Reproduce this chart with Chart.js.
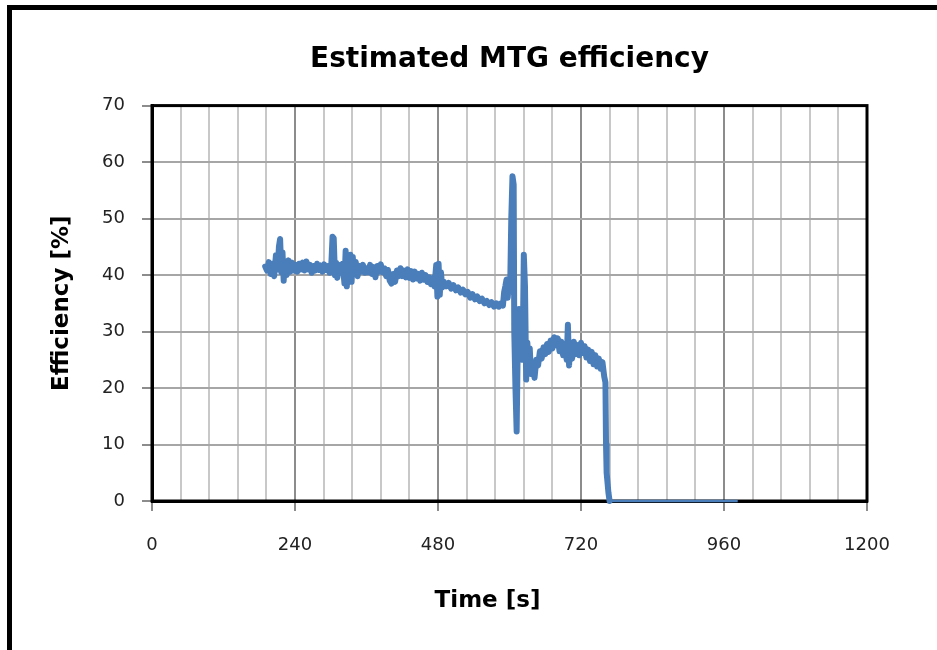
<!DOCTYPE html>
<html>
<head>
    <meta charset="UTF-8">
    <title>Estimated MTG efficiency</title>
    <script src="https://cdn.jsdelivr.net/npm/chart.js"></script>
    <style>
        body { margin: 0; background: #fff; }
        .wrap { position: relative; width: 937px; height: 650px; overflow: hidden; }
        /* outer frame of the picture (right side runs off the edge) */
        .frame {
            position: absolute;
            left: 7px; top: 5px;
            width: 960px; height: 641px;
            border-left: 5px solid #000;
            border-top: 5px solid #000;
            border-bottom: 2px solid #bbb;
            pointer-events: none;
        }
    </style>
</head>
<body>
<div class="wrap">
    <canvas id="chartMtg" width="937" height="650"></canvas>
    <div class="frame"></div>
</div>
<script>
    // time axis [s] and efficiency [%]
    const times = [
        190, 193, 196, 199, 202, 205, 208, 211, 213, 215, 217, 219, 221, 223, 226, 229, 232, 235, 238,
        241, 244, 247, 250, 253, 256, 259, 262, 265, 268, 271, 274, 277, 280, 283, 286, 289, 292, 295, 298,
        301, 303, 305, 307, 309, 311, 314, 317, 320, 323, 325, 327, 329, 331, 333, 335, 337, 339,
        342, 345, 348, 351, 354, 357, 360, 363, 366, 369, 372, 375, 378, 381, 384, 387, 390, 393, 396, 399,
        402, 405, 408, 411, 414, 417, 420, 423, 426, 429, 432, 435, 438, 441, 444, 447, 450, 453, 456, 459,
        462, 465, 468, 471, 474, 477, 479, 481, 483, 485, 487, 490, 494, 498,
        502, 506, 510, 514, 518, 522, 526, 530, 534, 538, 542, 546, 550, 554, 558, 562, 566, 570, 574, 578,
        582, 586, 589, 591, 593, 595, 597, 599, 601, 603, 605, 607, 608, 610, 612, 614, 616, 618, 620,
        622, 624, 626, 628, 630, 632, 634, 636, 639, 642, 645, 648, 651, 654, 657, 660, 663, 666, 669,
        672, 675, 678, 681, 684, 687, 690, 693, 696, 698, 700, 702, 705, 708, 711, 714, 717, 720,
        723, 726, 729, 732, 735, 738, 741, 744, 747, 750, 753, 756, 759, 761, 762, 763, 766, 768
    ];
    const efficiency = [
        41.5, 40.8, 42.3, 40.2, 42.0, 39.8, 43.5, 41.0, 45.0, 46.4, 40.5, 44.0, 39.0, 42.5, 40.0, 42.6, 40.6, 42.2, 40.8,
        41.8, 40.6, 42.0, 41.0, 42.2, 40.8, 42.4, 41.0, 41.8, 40.4, 41.6, 40.8, 42.0, 40.9, 41.7, 40.6, 41.9, 40.9, 41.6, 40.4,
        42.0, 46.8, 46.5, 40.0, 42.2, 39.5, 41.8, 40.6, 42.0, 38.5, 44.3, 38.0, 43.0, 39.0, 43.6, 38.8, 43.2, 40.2,
        42.3, 39.8, 41.6, 40.6, 41.8, 40.4, 41.2, 40.5, 41.8, 40.2, 41.4, 39.6, 41.6, 40.6, 41.9, 40.5, 41.2, 39.8, 40.9, 39.0,
        38.5, 40.2, 38.8, 40.8, 39.8, 41.2, 39.8, 40.8, 39.6, 41.0, 39.5, 40.7, 39.2, 40.6, 39.4, 40.2, 39.0, 40.4, 39.2, 40.0,
        38.8, 39.6, 38.4, 39.4, 38.0, 41.8, 36.2, 42.0, 36.5, 40.5, 37.8, 38.8, 38.0, 38.6,
        37.6, 38.2, 37.3, 37.8, 36.9, 37.4, 36.6, 37.0, 36.0, 36.6, 35.7, 36.2, 35.4, 35.8, 35.0, 35.4, 34.7, 35.2, 34.4, 35.0,
        34.4, 35.0, 34.6, 37.0, 38.0, 39.2, 36.0, 38.6, 37.0, 50.0, 57.5, 56.0, 30.0, 20.0, 12.3, 29.0, 34.0, 26.0, 30.0,
        25.0, 43.6, 38.0, 21.5, 28.0, 23.0, 27.0, 22.5, 24.5, 21.8, 25.0, 24.0, 26.5, 25.2, 27.2, 26.0, 27.8, 26.4, 28.4,
        27.0, 29.0, 27.6, 28.8, 26.5, 28.2, 25.8, 27.6, 25.0, 31.2, 24.0, 27.8, 25.2, 28.2, 26.0, 27.6, 25.8, 28.0,
        26.2, 27.4, 25.4, 26.8, 24.8, 26.4, 24.2, 25.8, 23.8, 25.2, 23.4, 24.6, 22.0, 21.0, 10.0, 5.0, 1.5, 0
    ];
    // flat zero after shutdown
    const tailTimes = [768, 983];
    const tailEfficiency = [0, 0];

    const xTicksMajor = 240;   // labelled ticks
    const xGridStep = 48;      // minor grid spacing
    const yTickStep = 10;

    const lineColor = '#4A7EBB';
    const fontFamily = '"DejaVu Sans", sans-serif';

    // black box round the plot area (under the data) + x axis title
    const plotFrame = {
        id: 'plotFrame',
        beforeDatasetsDraw(chart) {
            const a = chart.chartArea;
            const c = chart.ctx;
            c.save();
            c.strokeStyle = '#000';
            c.lineWidth = 3;
            c.strokeRect(a.left, a.top, a.right - a.left, a.bottom - a.top);
            c.restore();
        },
        afterDraw(chart) {
            const a = chart.chartArea;
            const c = chart.ctx;
            c.save();
            c.fillStyle = '#000';
            c.font = 'bold 23px ' + fontFamily;
            c.textAlign = 'center';
            c.textBaseline = 'middle';
            c.fillText('Time [s]', (a.left + a.right) / 2 - 22, 601);
            c.restore();
        }
    };

    new Chart(document.getElementById('chartMtg').getContext('2d'), {
        type: 'scatter',
        data: {
            datasets: [{
                data: times.map((t, i) => ({ x: t, y: efficiency[i] })),
                showLine: true,
                borderColor: lineColor,
                borderWidth: 6,
                borderJoinStyle: 'round',
                borderCapStyle: 'round',
                pointRadius: 0,
                tension: 0,
                clip: 6
            }, {
                data: tailTimes.map((t, i) => ({ x: t, y: tailEfficiency[i] })),
                showLine: true,
                borderColor: lineColor,
                borderWidth: 2.5,
                pointRadius: 0,
                clip: 6
            }]
        },
        options: {
            responsive: false,
            animation: false,
            layout: { padding: { left: 40, right: 70, top: 0, bottom: 95 } },
            plugins: {
                legend: { display: false },
                tooltip: { enabled: false },
                title: {
                    display: true,
                    text: 'Estimated MTG efficiency',
                    fullSize: false,
                    color: '#000',
                    font: { family: fontFamily, size: 28, weight: 'bold' },
                    padding: { top: 43, bottom: 29 }
                }
            },
            scales: {
                x: {
                    type: 'linear',
                    min: 0,
                    max: 1200,
                    afterFit(scale) { scale.height = 54; },
                    border: { color: '#000', width: 3 },
                    grid: {
                        lineWidth: 2,
                        color: ctx => ctx.tick.value % xTicksMajor === 0 ? '#8c8c8c' : '#c8c8c8',
                        tickColor: ctx => ctx.tick.value % xTicksMajor === 0 ? '#8c8c8c' : 'rgba(0,0,0,0)',
                        tickLength: 10,
                        tickWidth: 2
                    },
                    ticks: {
                        stepSize: xGridStep,
                        autoSkip: false,
                        maxRotation: 0,
                        padding: 24,
                        color: '#222',
                        font: { family: fontFamily, size: 18 },
                        callback: v => v % xTicksMajor === 0 ? v : ''
                    }
                },
                y: {
                    min: 0,
                    max: 70,
                    afterFit(scale) { scale.width = 112; },
                    border: { color: '#000', width: 3 },
                    grid: {
                        lineWidth: 2,
                        color: '#a6a6a6',
                        tickColor: '#8c8c8c',
                        tickLength: 10
                    },
                    ticks: {
                        stepSize: yTickStep,
                        padding: 17,
                        color: '#222',
                        font: { family: fontFamily, size: 18 }
                    },
                    title: {
                        display: true,
                        text: 'Efficiency [%]',
                        color: '#000',
                        font: { family: fontFamily, size: 23, weight: 'bold' },
                        padding: { top: 8, bottom: 4 }
                    }
                }
            }
        },
        plugins: [plotFrame]
    });
</script>
</body>
</html>
